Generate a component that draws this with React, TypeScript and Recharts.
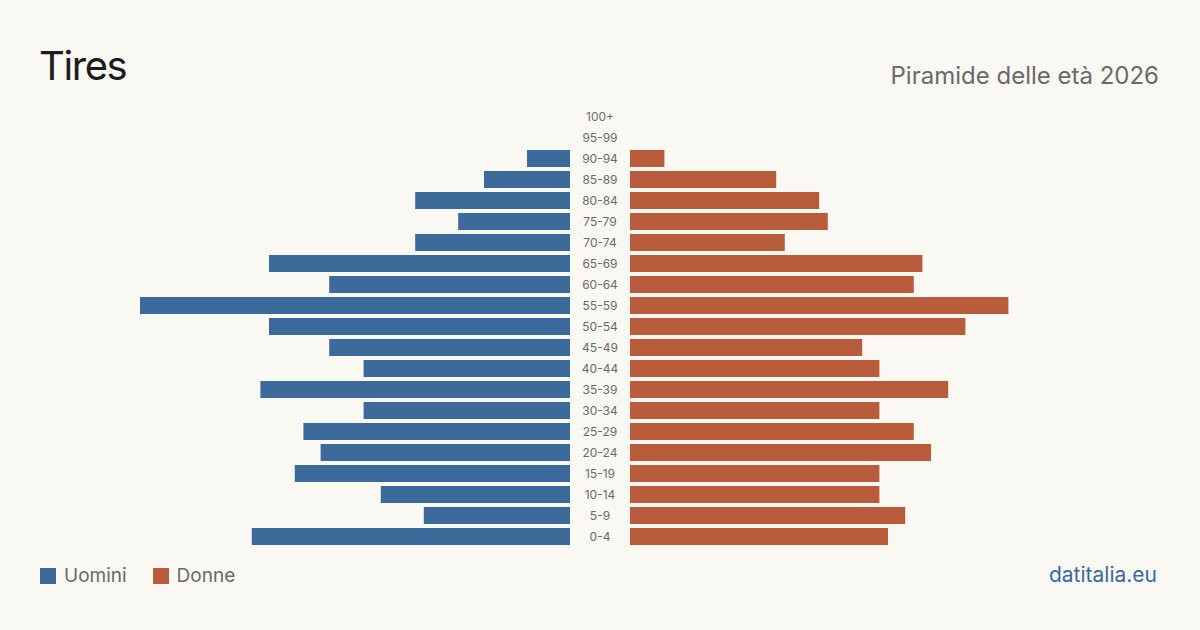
import React from "react";
import { BarChart, Bar, XAxis, YAxis } from "recharts";

// Age classes, from oldest (top) to youngest (bottom)
const ageGroups = [
  "100+", "95-99", "90-94", "85-89", "80-84", "75-79", "70-74", "65-69",
  "60-64", "55-59", "50-54", "45-49", "40-44", "35-39", "30-34", "25-29",
  "20-24", "15-19", "10-14", "5-9", "0-4",
];
const men = [0, 0, 5, 10, 18, 13, 18, 35, 28, 50, 35, 28, 24, 36, 24, 31, 29, 32, 22, 17, 37];
const women = [0, 0, 4, 17, 22, 23, 18, 34, 33, 44, 39, 27, 29, 37, 29, 33, 35, 29, 29, 32, 30];
const maxValue = 50;

const data = ageGroups.map((age, i) => ({ age, men: men[i], women: women[i] }));

const BLUE = "#3b6a9b";
const ORANGE = "#b95c3c";
const BG = "#f9f8f3";
const FONT = "Inter, 'Open Sans', sans-serif";

const LABEL_COL = 60;
const SIDE = 430;
const TOP = 106;
const HEIGHT = 441;

const AgeTick = (props: any) => {
  const { x, y, payload } = props;
  return (
    <text
      x={x - LABEL_COL / 2}
      y={y}
      dy={4}
      textAnchor="middle"
      fontSize={12}
      fill="#6b6b6b"
      fontFamily={FONT}
    >
      {payload.value}
    </text>
  );
};

export default function App() {
  return (
    <div
      style={{
        position: "absolute",
        left: 0,
        top: 0,
        width: 1200,
        height: 630,
        background: BG,
        fontFamily: FONT,
        overflow: "hidden",
      }}
    >
      <div
        style={{
          position: "absolute",
          left: 39,
          top: 40,
          fontSize: 40,
          letterSpacing: -1.4,
          color: "#1c1c1c",
          lineHeight: "52px",
        }}
      >
        Tires
      </div>
      <div
        style={{
          position: "absolute",
          right: 41,
          top: 60,
          fontSize: 24,
          color: "#6a6a6a",
          lineHeight: "32px",
        }}
      >
        Piramide delle età 2026
      </div>

      {/* Men: bars grow leftwards */}
      <div style={{ position: "absolute", left: 570 - SIDE, top: TOP }}>
        <BarChart
          width={SIDE}
          height={HEIGHT}
          data={data}
          layout="vertical"
          margin={{ top: 0, right: 0, bottom: 0, left: 0 }}
        >
          <XAxis type="number" domain={[0, maxValue]} reversed hide />
          <YAxis type="category" dataKey="age" hide />
          <Bar dataKey="men" fill={BLUE} barSize={17} isAnimationActive={false} />
        </BarChart>
      </div>

      {/* Women: bars grow rightwards, age labels in the centre column */}
      <div style={{ position: "absolute", left: 570, top: TOP }}>
        <BarChart
          width={SIDE + LABEL_COL}
          height={HEIGHT}
          data={data}
          layout="vertical"
          margin={{ top: 0, right: 0, bottom: 0, left: 0 }}
        >
          <XAxis type="number" domain={[0, maxValue]} hide />
          <YAxis
            type="category"
            dataKey="age"
            width={LABEL_COL}
            axisLine={false}
            tickLine={false}
            tickSize={0}
            tickMargin={0}
            interval={0}
            tick={<AgeTick />}
          />
          <Bar dataKey="women" fill={ORANGE} barSize={17} isAnimationActive={false} />
        </BarChart>
      </div>

      {/* Legend */}
      <div
        style={{
          position: "absolute",
          left: 40,
          top: 564,
          display: "flex",
          alignItems: "center",
          fontSize: 19,
          color: "#6a6a6a",
          lineHeight: "24px",
        }}
      >
        <span style={{ width: 16, height: 16, background: BLUE, display: "inline-block", marginRight: 8 }} />
        <span style={{ marginRight: 26 }}>Uomini</span>
        <span style={{ width: 16, height: 16, background: ORANGE, display: "inline-block", marginRight: 8 }} />
        <span>Donne</span>
      </div>

      <div
        style={{
          position: "absolute",
          right: 43,
          top: 561,
          fontSize: 21,
          color: "#3b6a9b",
          lineHeight: "28px",
        }}
      >
        datitalia.eu
      </div>
    </div>
  );
}
